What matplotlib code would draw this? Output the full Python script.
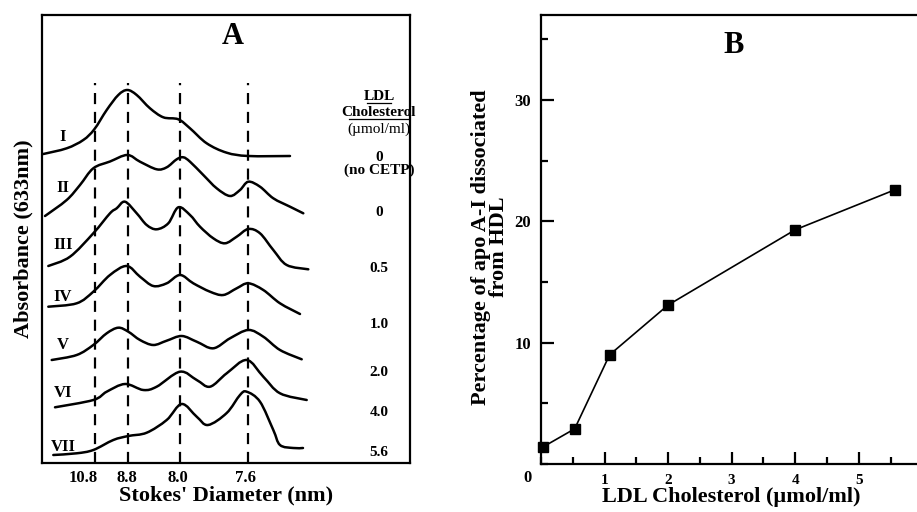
import matplotlib
matplotlib.use("Agg")
import matplotlib.pyplot as plt
from matplotlib.ticker import MultipleLocator
from matplotlib.path import Path
from matplotlib.patches import PathPatch
import numpy as np

plt.rcParams['font.family'] = ['Liberation Serif', 'DejaVu Serif']
plt.rcParams['font.weight'] = 'bold'

# ---------------- Panel A data (trace positions / heights) ----------------
trace_labels = ["I", "II", "III", "IV", "V", "VI", "VII"]
ldl_labels = ["0\n(no CETP)", "0", "0.5", "1.0", "2.0", "4.0", "5.6"]

t1_x = [43.3, 66.7, 83.3, 94.3, 106.7, 118.3, 127.3, 136.7, 150, 163.3, 178.3, 190, 206.7, 226.7, 248.3, 290]
t1_y = [309, 314.7, 323, 333.7, 353, 368, 373, 368, 354.7, 345.7, 343.7, 334.7, 319.7, 310.3, 307, 307]

t2_x = [45, 66.7, 80, 93.3, 110, 127.3, 140, 156.7, 166.7, 176.7, 183.3, 190, 203.3, 216.7, 230, 240, 248.3, 260, 273.3, 290, 303.3]
t2_y = [247, 263, 278, 294.7, 301.5, 308, 301.3, 293.7, 295.7, 303.7, 305.7, 301.3, 288, 274.7, 267, 273, 281.3, 276.3, 264.7, 256.3, 249.7]

t3_x = [48.3, 70, 93.3, 110, 116.7, 125, 136.7, 146.7, 156.7, 168.3, 178.3, 190, 200, 213.3, 225, 236.7, 248.3, 260, 273.3, 286.7, 308.3]
t3_y = [197, 206.3, 229.7, 249.7, 254.7, 261.3, 249.7, 238, 233.7, 239.7, 255.7, 248, 236.3, 224.7, 219.7, 226.3, 234, 229.7, 213, 198, 193.7]

t4_x = [48.3, 76.7, 93.3, 110, 126.7, 140, 153.3, 166.7, 180, 193.3, 210, 223.3, 236.7, 248.3, 263.3, 280, 300]
t4_y = [156.3, 159.7, 171.3, 188, 197, 186.3, 177, 179.7, 188, 179.7, 171.3, 168, 174.7, 179.7, 173, 159.7, 149]

t5_x = [51.7, 76.7, 93.3, 106.7, 118.3, 128.3, 140, 153.3, 166.7, 181.7, 196.7, 213.3, 230, 248.3, 263.3, 280, 301.7]
t5_y = [103, 108, 118, 129.7, 135.3, 131.3, 123, 118, 122.3, 127, 121.3, 114.7, 124.7, 133, 126.3, 113, 103.7]

t6_x = [55, 93.3, 106.7, 125, 143.3, 156.7, 180, 196.7, 210, 226.7, 246.7, 263.3, 280, 306.7]
t6_y = [55.7, 63, 71.3, 79, 73, 76.3, 91.3, 83, 76.3, 89.7, 103, 86.3, 69.7, 63]

t7_x = [53.3, 76.7, 93.3, 113.3, 128.3, 146.7, 166.7, 181.7, 196.7, 208, 226.7, 240, 246.7, 260, 273.3, 280, 293.3, 303]
t7_y = [8, 9.7, 13, 23, 27, 30.3, 43, 59, 46.3, 38, 50, 68, 71.3, 61.3, 33, 18, 15, 15]

traces_x = [t1_x, t2_x, t3_x, t4_x, t5_x, t6_x, t7_x]
traces_y = [t1_y, t2_y, t3_y, t4_y, t5_y, t6_y, t7_y]

# label anchor positions (left numerals, right LDL values)
numeral_y = [326, 275, 218, 166, 118, 70, 16]
ldl_y = [299, 251, 194, 139, 91, 51, 11]

diam_lines = [95, 128, 180, 248]
diam_tick_pos = [83, 127, 178, 246]
diam_tick_labels = ["10.8", "8.8", "8.0", "7.6"]

# ---------------- Panel B data ----------------
ldl_chol = [0.03, 0.53, 1.08, 2.0, 4.0, 5.57]
pct_apoA1 = [1.4, 2.9, 9.0, 13.1, 19.3, 22.6]


def smooth_path(xs, ys):
    """Cubic Bezier path through the given points (Catmull-Rom tangents)."""
    pts = np.column_stack([xs, ys]).astype(float)
    n = len(pts)
    verts = [pts[0]]
    codes = [Path.MOVETO]
    for i in range(n - 1):
        p0 = pts[i - 1] if i > 0 else pts[i]
        p1 = pts[i]
        p2 = pts[i + 1]
        p3 = pts[i + 2] if i + 2 < n else pts[i + 1]
        c1 = p1 + (p2 - p0) / 6.0
        c2 = p2 - (p3 - p1) / 6.0
        verts += [c1, c2, p2]
        codes += [Path.CURVE4] * 3
    return Path(verts, codes)


W, H = 917, 512
fig = plt.figure(figsize=(W / 100, H / 100), dpi=100)

# ---------------- Panel A ----------------
axA = fig.add_axes([42 / W, (H - 463) / H, (410 - 42) / W, (463 - 15) / H])
axA.set_xlim(42, 410)
axA.set_ylim(0, 448)
for s in axA.spines.values():
    s.set_linewidth(1.6)

for xl in diam_lines:
    axA.plot([xl, xl], [0, 380], color='black', lw=1.6, ls=(0, (5, 3.5)), zorder=1)

for xs, ys in zip(traces_x, traces_y):
    axA.add_patch(PathPatch(smooth_path(xs, ys), facecolor='none', edgecolor='black',
                            lw=1.8, capstyle='round', joinstyle='round', zorder=2))

for lab, yy in zip(trace_labels, numeral_y):
    axA.text(63, yy, lab, ha='center', va='center', fontsize=12, fontweight='bold')

for lab, yy in zip(ldl_labels, ldl_y):
    axA.text(379, yy, lab, ha='center', va='center', fontsize=11, fontweight='bold',
             linespacing=0.9)

axA.text(379, 367, "LDL", ha='center', va='center', fontsize=11, fontweight='bold')
axA.plot([367, 391], [360, 360], color='black', lw=0.9)
axA.text(379, 351, "Cholesterol", ha='center', va='center', fontsize=11, fontweight='bold')
axA.plot([349, 409], [344, 344], color='black', lw=0.9)
axA.text(379, 334, "(\u00b5mol/ml)", ha='center', va='center', fontsize=11, fontweight='normal')

axA.text(233, 426, "A", ha='center', va='center', fontsize=22, fontweight='bold')

axA.set_xticks(diam_tick_pos)
axA.set_xticklabels(diam_tick_labels, fontsize=12, fontweight='bold')
axA.tick_params(axis='x', length=0, pad=5)
axA.set_yticks([])
axA.set_xlabel("Stokes' Diameter (nm)", fontsize=16, fontweight='bold', labelpad=0)
axA.set_ylabel("Absorbance (633nm)", fontsize=16, fontweight='bold', labelpad=6)

# ---------------- Panel B ----------------
axB = fig.add_axes([541 / W, (H - 464) / H, 394 / W, (464 - 15) / H])
axB.set_xlim(0, 6.2)
axB.set_ylim(0, 37)
axB.spines['right'].set_visible(False)
for k in ['left', 'top', 'bottom']:
    axB.spines[k].set_linewidth(1.6)

axB.plot(ldl_chol, pct_apoA1, color='black', lw=1.2, marker='s', markersize=7.5,
         markerfacecolor='black', markeredgecolor='black', clip_on=False, zorder=3)

axB.set_xticks([1, 2, 3, 4, 5, 6])
axB.set_yticks([10, 20, 30])
axB.xaxis.set_minor_locator(MultipleLocator(0.5))
axB.yaxis.set_minor_locator(MultipleLocator(5))
axB.tick_params(which='major', direction='in', length=9, width=1.6, top=False, right=False)
axB.tick_params(which='minor', direction='in', length=5, width=1.6, top=False, right=False)
axB.tick_params(axis='y', which='major', pad=7, labelsize=12)
axB.tick_params(axis='x', which='major', pad=7, labelsize=11)
for lab in axB.get_xticklabels() + axB.get_yticklabels():
    lab.set_fontweight('bold')

axB.annotate("0", xy=(0, 0), xytext=(-10, -10), textcoords='offset points',
             ha='center', va='center', fontsize=12, fontweight='bold', annotation_clip=False)

axB.text(3.03, 34.5, "B", ha='center', va='center', fontsize=22, fontweight='bold')

axB.set_xlabel("LDL Cholesterol (\u00b5mol/ml)", fontsize=16, fontweight='bold')
axB.xaxis.set_label_coords((731 - 541) / 394, -0.052)
fig.text(490 / W, 1 - 247 / H, "Percentage of apo A-I dissociated\nfrom HDL", rotation=90,
         ha='center', va='center', fontsize=16, fontweight='bold', linespacing=0.82)

fig.savefig("out.png", dpi=100)
